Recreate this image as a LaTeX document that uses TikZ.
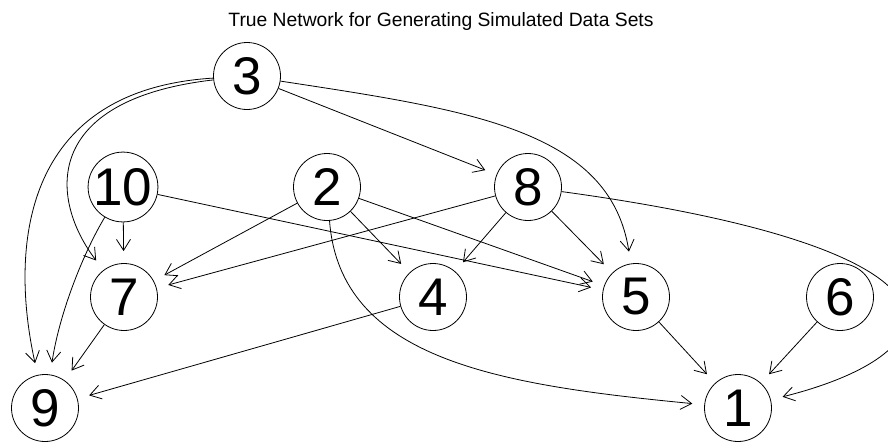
\documentclass[tikz,border=0pt]{standalone}
\usepackage{fontspec}
\setmainfont{Liberation Sans}
\usetikzlibrary{arrows.meta}

\begin{document}
\begin{tikzpicture}[x=1pt,y=-1pt,
  vertex/.style={circle,draw=black,line width=0.8pt,minimum size=67pt,inner sep=0pt,
                 font=\fontsize{53}{53}\selectfont},
  edge/.style={line width=0.8pt,-{Straight Barb[length=11pt,width=14pt,line width=0.8pt]},
               shorten >=12pt}]
  % canvas
  \fill[white] (0,0) rectangle (888,445);
  \useasboundingbox (0,0) rectangle (888,445);
  \clip (0,0) rectangle (888,445);

  % title
  \node[anchor=base,font=\fontsize{19.3}{19.3}\selectfont] (title) at (441,26)
    {True Network for Generating Simulated Data Sets};

  % vertices
  \node[vertex] (n3)  at (247,76)  {3};
  \node[vertex] (n10) at (123,187) {10};
  \node[vertex] (n2)  at (327,187) {2};
  \node[vertex] (n8)  at (528,187) {8};
  \node[vertex] (n7)  at (124,297) {7};
  \node[vertex] (n4)  at (433,297) {4};
  \node[vertex] (n5)  at (636,297) {5};
  \node[vertex] (n6)  at (840,297) {6};
  \node[vertex] (n9)  at (45,408)  {9};
  \node[vertex] (n1)  at (738,408) {1};

  % curved edges
  \draw[edge] (n3) .. controls (20,90) and (10,250) .. (n9);
  \draw[edge] (n3) .. controls (40,100) and (50,200) .. (n7);
  \draw[edge] (n10) .. controls (85,250) and (60,310) .. (n9);
  \draw[edge] (n3) .. controls (470,110) and (610,130) .. (n5);
  \draw[edge] (n2) .. controls (340,360) and (500,385) .. (n1);
  \draw[edge] (n8) .. controls (990,250) and (961,352) .. (n1);

  % straight edges
  \draw[edge] (n3) -- (n8);
  \draw[edge] (n10) -- (n7);
  \draw[edge] (n10) -- (n5);
  \draw[edge] (n2) -- (n7);
  \draw[edge] (n2) -- (n4);
  \draw[edge] (n2) -- (n5);
  \draw[edge] (n8) -- (n7);
  \draw[edge] (n8) -- (n4);
  \draw[edge] (n8) -- (n5);
  \draw[edge] (n7) -- (n9);
  \draw[edge] (n4) -- (n9);
  \draw[edge] (n5) -- (n1);
  \draw[edge] (n6) -- (n1);
\end{tikzpicture}
\end{document}
